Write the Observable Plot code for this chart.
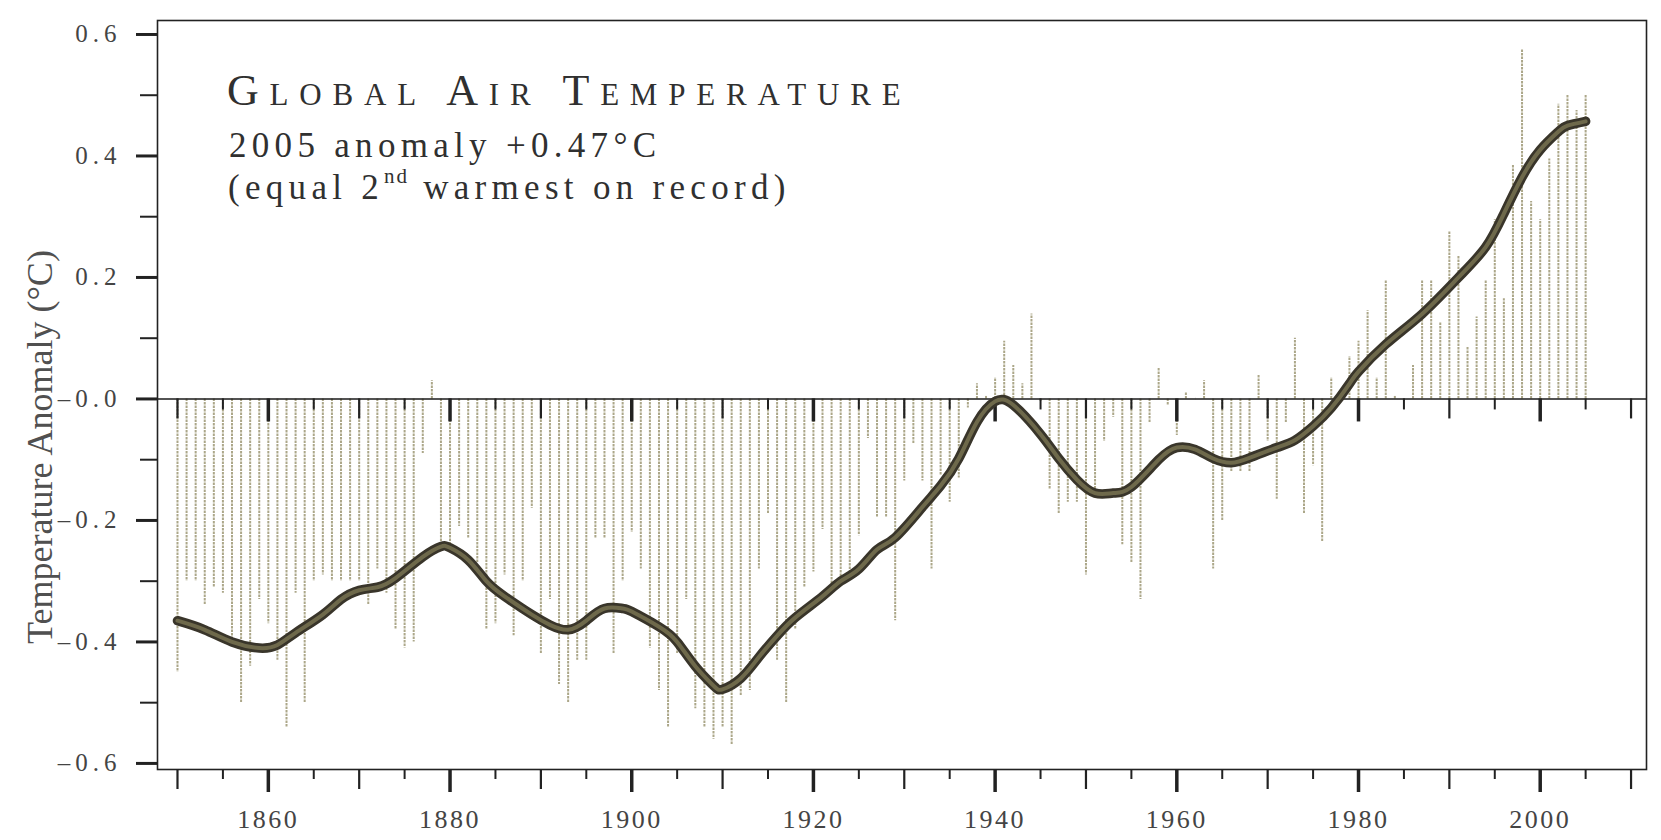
<!DOCTYPE html>
<html>
<head>
<meta charset="utf-8">
<script src="https://cdn.jsdelivr.net/npm/d3@7"></script>
<script src="https://cdn.jsdelivr.net/npm/@observablehq/plot@0.6"></script>
<style>
  html, body { margin: 0; padding: 0; background: #fff; }
  #chart { position: relative; width: 1661px; height: 840px; overflow: hidden; }
  .ttl { position: absolute; font-family: "Liberation Serif", "DejaVu Serif", serif; color: #303030; white-space: nowrap; line-height: 1.15; }
  #t1 { left: 227px; top: 66px; font-size: 44px; font-variant: small-caps; letter-spacing: 10.8px; }
  #t2 { left: 229px; top: 126px; font-size: 35px; letter-spacing: 5.3px; }
  #t3 { left: 228px; top: 168px; font-size: 35px; letter-spacing: 5.3px; }
  #t3 sup { font-size: 0.6em; vertical-align: 0.75em; line-height: 0; letter-spacing: 2px; }
</style>
</head>
<body>
<div id="chart">
  <div class="ttl" id="t1">Global Air Temperature</div>
  <div class="ttl" id="t2">2005 anomaly +0.47°C</div>
  <div class="ttl" id="t3">(equal 2<sup>nd</sup> warmest on record)</div>
</div>
<script>
// ---- data (°C, read against the left axis) ----
const firstYear = 1850;
const anomalies = [
  -0.45, -0.30, -0.30, -0.34, -0.31, -0.32, -0.40, -0.50, -0.44, -0.33,        // 1850s
  -0.37, -0.43, -0.54, -0.32, -0.50, -0.30, -0.29, -0.30, -0.30, -0.30,        // 1860s
  -0.30, -0.34, -0.28, -0.32, -0.38, -0.41, -0.40, -0.09, 0.03, -0.24,         // 1870s
  -0.24, -0.21, -0.23, -0.27, -0.38, -0.37, -0.29, -0.39, -0.30, -0.18,        // 1880s
  -0.42, -0.33, -0.47, -0.50, -0.43, -0.43, -0.23, -0.23, -0.42, -0.30,        // 1890s
  -0.22, -0.28, -0.41, -0.48, -0.54, -0.42, -0.33, -0.51, -0.54, -0.56,        // 1900s
  -0.54, -0.57, -0.49, -0.48, -0.28, -0.19, -0.43, -0.50, -0.38, -0.31,        // 1910s
  -0.285, -0.215, -0.315, -0.305, -0.295, -0.225, -0.065, -0.195, -0.195, -0.365, // 1920s
  -0.135, -0.075, -0.135, -0.28, -0.125, -0.17, -0.13, -0.015, 0.025, 0.005,   // 1930s
  0.035, 0.095, 0.055, 0.025, 0.14, -0.005, -0.15, -0.19, -0.17, -0.17,        // 1940s
  -0.29, -0.15, -0.07, -0.03, -0.24, -0.27, -0.33, -0.04, 0.05, -0.01,         // 1950s
  -0.06, 0.01, 0.00, 0.03, -0.28, -0.20, -0.12, -0.12, -0.12, 0.04,            // 1960s
  -0.07, -0.165, -0.04, 0.10, -0.19, -0.11, -0.235, 0.035, 0.00, 0.07,         // 1970s
  0.095, 0.145, 0.035, 0.195, 0.005, -0.005, 0.055, 0.195, 0.195, 0.125,       // 1980s
  0.275, 0.235, 0.085, 0.135, 0.195, 0.295, 0.165, 0.385, 0.575, 0.325,        // 1990s
  0.295, 0.395, 0.485, 0.50, 0.475, 0.50                                       // 2000s
];
const smoothYears = [1850, 1853, 1856, 1859, 1861, 1863, 1866, 1868, 1870, 1872, 1874, 1877, 1879, 1880,
  1882, 1884, 1886, 1889, 1891, 1893, 1895, 1897, 1899, 1900, 1903, 1905, 1907, 1909, 1910, 1912, 1914,
  1916, 1918, 1921, 1923, 1925, 1927, 1929, 1932, 1934, 1936, 1938, 1940, 1942, 1945, 1947, 1949, 1951,
  1953, 1955, 1958, 1960, 1962, 1964, 1966, 1968, 1971, 1973, 1975, 1977, 1979, 1980, 1983, 1987, 1991,
  1994, 1996, 1998, 2000, 2002, 2003, 2005];
const smoothValues = [-0.365, -0.38, -0.40, -0.41, -0.405, -0.385, -0.355, -0.33, -0.315, -0.31, -0.295, -0.26, -0.243, -0.245,
  -0.265, -0.30, -0.325, -0.355, -0.372, -0.38, -0.365, -0.345, -0.345, -0.35, -0.375, -0.40, -0.44, -0.472, -0.478, -0.46, -0.425,
  -0.39, -0.36, -0.325, -0.30, -0.28, -0.248, -0.228, -0.178, -0.143, -0.098, -0.038, -0.004, -0.01, -0.058, -0.098, -0.133, -0.155,
  -0.155, -0.145, -0.10, -0.08, -0.083, -0.098, -0.105, -0.097, -0.08, -0.068, -0.045, -0.015, 0.025,
  0.045, 0.09, 0.14, 0.20, 0.25, 0.305, 0.365, 0.41, 0.44, 0.45, 0.457];
const yMajorTicks = [-0.6, -0.4, -0.2, 0, 0.2, 0.4, 0.6];
const yMinorTicks = [-0.5, -0.3, -0.1, 0.1, 0.3, 0.5];
const yTickLabels = ["–0.6", "–0.4", "–0.2", "–0.0", "0.2", "0.4", "0.6"];
const xTicks20 = [1860, 1880, 1900, 1920, 1940, 1960, 1980, 2000];
const xTicks10 = [1850, 1870, 1890, 1910, 1930, 1950, 1970, 1990, 2010];
const xTicks5 = [1855, 1865, 1875, 1885, 1895, 1905, 1915, 1925, 1935, 1945, 1955, 1965, 1975, 1985, 1995, 2005];
const xTickLabels = ["1860", "1880", "1900", "1920", "1940", "1960", "1980", "2000"];
const yTitle = "Temperature Anomaly (°C)";

// ---- layout ----
const W = 1661, H = 840, mT = 20, mB = 71, mL = 157, mR = 15;
const yDomain = [-0.61, 0.623];
const pxPerUnit = (H - mT - mB) / (yDomain[1] - yDomain[0]);
const len = px => px / pxPerUnit;

const table = anomalies.map((v, i) => ({year: firstYear + i, value: v}));
const smooth = smoothYears.map((y, i) => ({year: y, value: smoothValues[i]}));
const ink = "#222";

const chart = Plot.plot({
  width: W, height: H,
  marginTop: mT, marginBottom: mB, marginLeft: mL, marginRight: mR,
  x: {domain: [1847.8, 2011.7]},
  y: {domain: yDomain},
  style: {fontFamily: "'Liberation Serif', serif", background: "white", color: "#333", overflow: "visible"},
  marks: [
    // annual bars
    Plot.ruleX(table, {x: "year", y1: 0, y2: "value", stroke: "#aca789", strokeWidth: 2, strokeDasharray: "2.5,1"}),
    // zero line and its hanging ticks
    Plot.ruleY([0], {stroke: "#1a1a1a", strokeWidth: 1.6}),
    Plot.ruleX(xTicks20, {x: d => d, y1: 0, y2: len(-23), stroke: ink, strokeWidth: 3.5}),
    Plot.ruleX(xTicks10, {x: d => d, y1: 0, y2: len(-20), stroke: ink, strokeWidth: 2.2}),
    Plot.ruleX(xTicks5, {x: d => d, y1: 0, y2: len(-11), stroke: ink, strokeWidth: 2}),
    // smoothed curve
    Plot.line(smooth, {x: "year", y: "value", curve: "natural", stroke: "#39352a", strokeWidth: 9.5, strokeLinecap: "round"}),
    Plot.line(smooth, {x: "year", y: "value", curve: "natural", stroke: "#6e694b", strokeWidth: 4, strokeLinecap: "round"}),
    // frame
    Plot.frame({stroke: ink, strokeWidth: 1.6}),
    // y axis
    Plot.axisY(yMajorTicks, {anchor: "left", tickSize: 21, tickPadding: 15, strokeWidth: 3, stroke: ink,
      tickFormat: d => yTickLabels[yMajorTicks.indexOf(d)], fontSize: 25, fill: "#444", label: null}),
    Plot.axisY(yMinorTicks, {anchor: "left", tickSize: 17, strokeWidth: 2, stroke: ink, tickFormat: () => "", label: null}),
    // x axis ticks
    Plot.axisX(xTicks20, {anchor: "bottom", tickSize: 23, strokeWidth: 3.5, stroke: ink, tickFormat: () => "", label: null}),
    Plot.axisX(xTicks10, {anchor: "bottom", tickSize: 20, strokeWidth: 2.2, stroke: ink, tickFormat: () => "", label: null}),
    Plot.axisX(xTicks5, {anchor: "bottom", tickSize: 10, strokeWidth: 2, stroke: ink, tickFormat: () => "", label: null}),
    Plot.axisX(xTicks20, {anchor: "bottom", tickSize: 0, tickPadding: 40, fontSize: 26, fill: "#444",
      tickFormat: d => xTickLabels[xTicks20.indexOf(d)], label: null}),
    // y title
    Plot.text([yTitle], {frameAnchor: "left", dx: -117, dy: 52, rotate: -90, text: d => d, fontSize: 36, fill: "#505050", textAnchor: "middle"})
  ]
});
document.getElementById("chart").prepend(chart);
// letter spacing of the tick labels, as in the original typesetting
chart.querySelectorAll('g[aria-label="y-axis tick label"] text').forEach(t => t.setAttribute("letter-spacing", "5"));
chart.querySelectorAll('g[aria-label="x-axis tick label"] text').forEach(t => t.setAttribute("letter-spacing", "2.5"));
</script>
</body>
</html>
